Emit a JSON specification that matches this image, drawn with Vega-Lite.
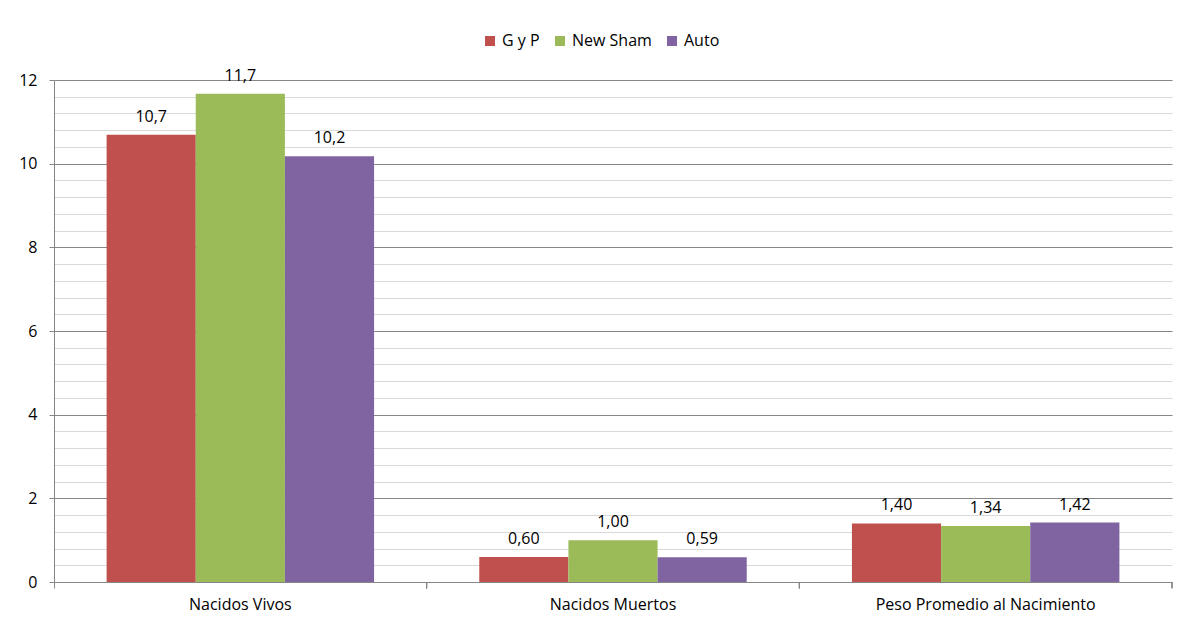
{
  "$schema": "https://vega.github.io/schema/vega-lite/v6.json",
  "width": 1118,
  "height": 502,
  "autosize": {"type": "none"},
  "padding": {"left": 54, "top": 80, "right": 7, "bottom": 42},
  "background": "white",
  "config": {"view": {"stroke": null}, "font": "Open Sans", "text": {"font": "Open Sans"}},
  "data": {
    "values": [
      {"categoria": "Nacidos Vivos", "serie": "G y P", "valor": 10.69, "etiqueta": "10,7"},
      {"categoria": "Nacidos Vivos", "serie": "New Sham", "valor": 11.67, "etiqueta": "11,7"},
      {"categoria": "Nacidos Vivos", "serie": "Auto", "valor": 10.18, "etiqueta": "10,2"},
      {"categoria": "Nacidos Muertos", "serie": "G y P", "valor": 0.60, "etiqueta": "0,60"},
      {"categoria": "Nacidos Muertos", "serie": "New Sham", "valor": 1.00, "etiqueta": "1,00"},
      {"categoria": "Nacidos Muertos", "serie": "Auto", "valor": 0.59, "etiqueta": "0,59"},
      {"categoria": "Peso Promedio al Nacimiento", "serie": "G y P", "valor": 1.40, "etiqueta": "1,40"},
      {"categoria": "Peso Promedio al Nacimiento", "serie": "New Sham", "valor": 1.34, "etiqueta": "1,34"},
      {"categoria": "Peso Promedio al Nacimiento", "serie": "Auto", "valor": 1.42, "etiqueta": "1,42"}
    ]
  },
  "encoding": {
    "x": {
      "field": "categoria",
      "type": "nominal",
      "sort": ["Nacidos Vivos", "Nacidos Muertos", "Peso Promedio al Nacimiento"],
      "scale": {"paddingInner": 0, "paddingOuter": 0},
      "axis": {
        "title": null,
        "labelAngle": 0,
        "labelLimit": 0,
        "bandPosition": 0,
        "tickSize": 6,
        "domainColor": "#868686",
        "tickColor": "#868686",
        "labelFontSize": 16,
        "labelColor": "#000000",
        "labelPadding": 8,
        "grid": false
      }
    },
    "y": {
      "field": "valor",
      "type": "quantitative",
      "scale": {"domain": [0, 12], "nice": false, "zero": true},
      "axis": {
        "title": null,
        "values": [0, 0.4, 0.8, 1.2, 1.6, 2, 2.4, 2.8, 3.2, 3.6, 4, 4.4, 4.8, 5.2, 5.6, 6, 6.4, 6.8, 7.2, 7.6, 8, 8.4, 8.8, 9.2, 9.6, 10, 10.4, 10.8, 11.2, 11.6, 12],
        "labelExpr": "datum.value % 2 === 0 ? format(datum.value, 'd') : ''",
        "labelOverlap": false,
        "grid": true,
        "gridColor": {"condition": {"test": "datum.value % 2 === 0", "value": "#868686"}, "value": "#D9D9D9"},
        "gridWidth": 1,
        "tickOpacity": {"condition": {"test": "datum.value % 2 === 0", "value": 1}, "value": 0},
        "tickColor": "#868686",
        "tickSize": 5,
        "domainColor": "#868686",
        "labelFontSize": 16,
        "labelColor": "#000000",
        "labelPadding": 12
      }
    }
  },
  "layer": [
    {
      "mark": {"type": "bar"},
      "encoding": {
        "xOffset": {"field": "serie", "type": "nominal", "sort": ["G y P", "New Sham", "Auto"], "scale": {"paddingInner": 0, "paddingOuter": 0.59}},
        "color": {
          "field": "serie",
          "type": "nominal",
          "sort": ["G y P", "New Sham", "Auto"],
          "scale": {"domain": ["G y P", "New Sham", "Auto"], "range": ["#C0504D", "#9BBB59", "#8064A2"]},
          "legend": {
            "orient": "none",
            "legendX": 428,
            "legendY": -47,
            "direction": "horizontal",
            "title": null,
            "symbolType": "square",
            "symbolSize": 100,
            "symbolStrokeWidth": 0,
            "labelFontSize": 16,
            "labelColor": "#000000",
            "labelOffset": 4,
            "columnPadding": 12
          }
        }
      }
    },
    {
      "mark": {"type": "text", "baseline": "bottom", "dy": -10, "fontSize": 16, "color": "#000000"},
      "encoding": {
        "xOffset": {"field": "serie", "type": "nominal", "sort": ["G y P", "New Sham", "Auto"], "scale": {"paddingInner": 0, "paddingOuter": 0.59}},
        "text": {"field": "etiqueta"}
      }
    },
    {
      "mark": {"type": "rule", "color": "#868686", "strokeWidth": 1},
      "encoding": {
        "x": {"field": "categoria", "type": "nominal", "sort": ["Nacidos Vivos", "Nacidos Muertos", "Peso Promedio al Nacimiento"], "bandPosition": 1},
        "y": {"datum": 0, "type": "quantitative"},
        "y2": {"datum": -0.15}
      }
    }
  ]
}
